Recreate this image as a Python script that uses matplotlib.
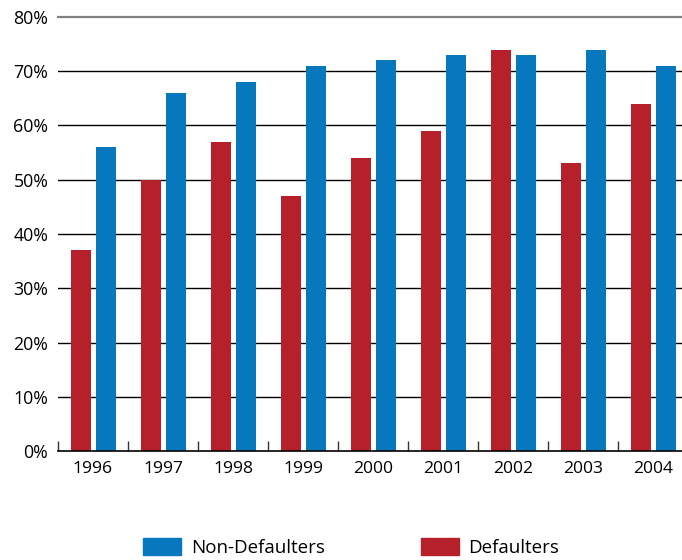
import matplotlib.pyplot as plt
import numpy as np
from matplotlib.patches import Patch

years = ['1996', '1997', '1998', '1999', '2000', '2001', '2002', '2003', '2004']
defaulters = [37, 50, 57, 47, 54, 59, 74, 53, 64]
non_defaulters = [56, 66, 68, 71, 72, 73, 73, 74, 71]

red = '#B5202A'
blue = '#0777BE'

plt.rcParams['font.family'] = ['Open Sans', 'DejaVu Sans']

fig = plt.figure(figsize=(6.82, 5.6), dpi=100)
ax = fig.add_axes([58 / 682, 109 / 560, 624 / 682, 434 / 560])

x = np.arange(len(years))
w = 20 / 70
ax.bar(x - 0.175, defaulters, width=w, color=red, zorder=3)
ax.bar(x + 0.18, non_defaulters, width=w, color=blue, zorder=3)

# horizontal grid
for v in range(10, 80, 10):
    ax.axhline(v, color='black', lw=1, zorder=1)
ax.axhline(80, color='#808080', lw=1.6, zorder=1, clip_on=False)

ax.set_xlim(-0.5, -0.5 + 624 / 70)
ax.set_ylim(0, 80)

ax.set_yticks(range(0, 81, 10))
ax.set_yticklabels([f'{v}%' for v in range(0, 81, 10)], fontsize=12.8)
ax.tick_params(axis='y', length=0, pad=7)

ax.set_xticks(x)
ax.set_xticklabels(years, fontsize=12.6)
ax.set_xticks(np.arange(len(years)) - 0.5, minor=True)
ax.tick_params(axis='x', which='major', length=0, pad=7)
ax.tick_params(axis='x', which='minor', direction='in', length=7.5, width=1, color='#333333')

for s in ['top', 'right', 'left']:
    ax.spines[s].set_visible(False)
ax.spines['bottom'].set_color('black')
ax.spines['bottom'].set_linewidth(1.2)
ax.spines['bottom'].set_zorder(4)

handles = [Patch(color=blue, label='Non-Defaulters'), Patch(color=red, label='Defaulters')]
fig.legend(handles=handles, loc='lower left', bbox_to_anchor=(143 / 682, 3 / 560),
           ncol=2, frameon=False, fontsize=13.5, borderpad=0, borderaxespad=0,
           handlelength=2.03, handleheight=1.07, handletextpad=0.53, columnspacing=5.1)

fig.savefig('out.png', dpi=100)
